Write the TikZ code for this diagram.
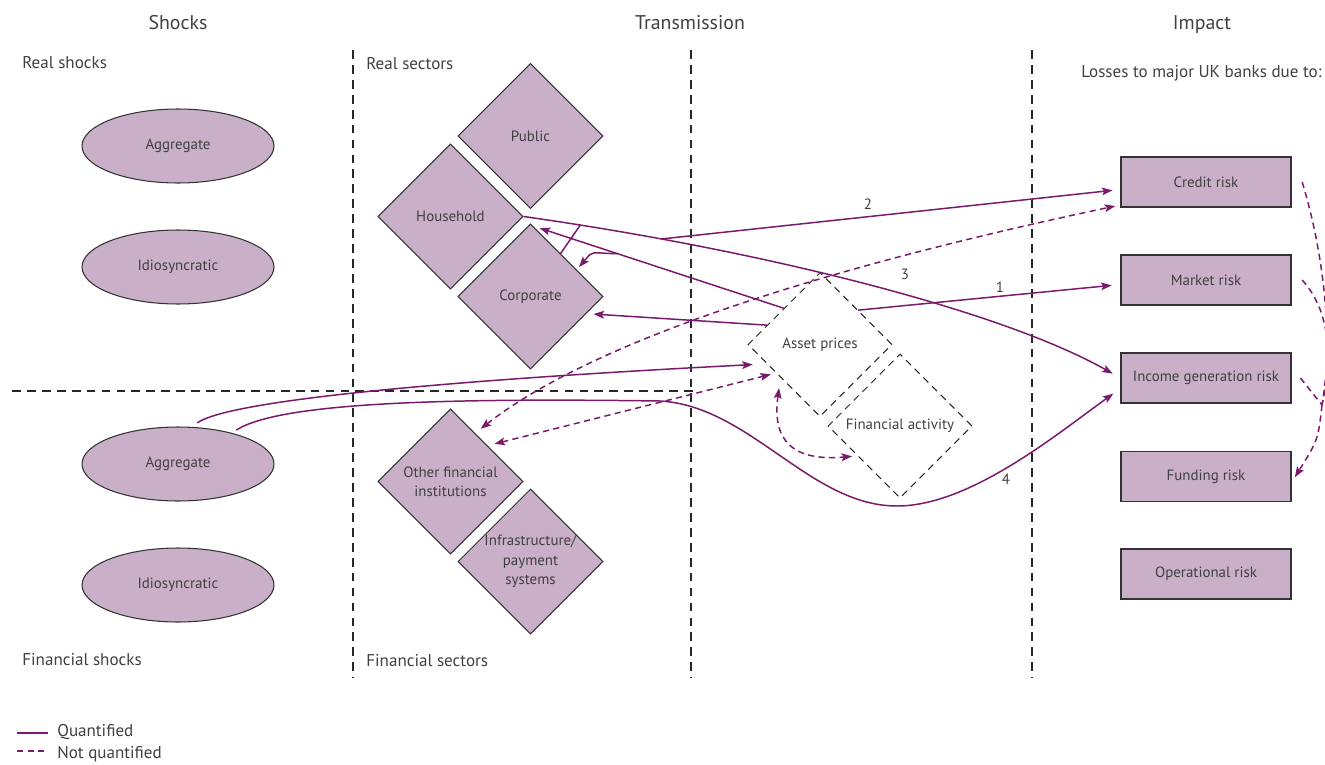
\documentclass[tikz,border=0pt]{standalone}
\usepackage{fontspec}
\setmainfont{PT Sans}
\usetikzlibrary{shapes.geometric,arrows.meta}
\definecolor{boepurple}{RGB}{122,26,108}
\definecolor{boefill}{RGB}{201,176,200}
\definecolor{boetext}{RGB}{64,64,64}

\begin{document}
\begin{tikzpicture}[x=0.02cm,y=0.02cm,>={Stealth[length=6pt,width=4.4pt,inset=1.2pt]}]
	\tikzstyle{every node} = [text=boetext,font=\fontsize{8.5}{11}\selectfont,align=center];
	\tikzstyle{shock} = [ellipse,draw=black!80,line width=0.6pt,fill=boefill,minimum width=3.84cm,minimum height=1.48cm];
	\tikzstyle{sector} = [diamond,draw=black!80,line width=0.6pt,fill=boefill,minimum size=2.9cm,inner sep=0pt];
	\tikzstyle{channel} = [diamond,draw=black!85,line width=0.6pt,dash pattern=on 4pt off 3pt,minimum size=2.88cm,inner sep=0pt];
	\tikzstyle{risk} = [rectangle,draw=black!80,line width=0.7pt,fill=boefill,minimum width=3.4cm,minimum height=1cm];
	\tikzstyle{head} = [font=\fontsize{11.3}{13}\selectfont];
	\tikzstyle{area} = [font=\fontsize{9.7}{11}\selectfont,anchor=west,inner sep=0pt];
	\tikzstyle{divider} = [black!85,line width=0.6pt,dash pattern=on 5pt off 3.5pt];
	\tikzstyle{qline} = [boepurple,line width=0.85pt];
	\tikzstyle{nqline} = [boepurple,line width=0.85pt,dash pattern=on 3.5pt off 2.5pt];

	\useasboundingbox (0,0) rectangle (1325,-764);
	\clip (0,0) rectangle (1325,-764);

	% headings
	\node[head] (tshock) at (178,-23) {Shocks};
	\node[head] (ttrans) at (690,-23) {Transmission};
	\node[head] (timpact) at (1202,-25) {Impact};
	\node[area] (lrs) at (22,-63) {Real shocks};
	\node[area] (lrsec) at (366,-64) {Real sectors};
	\node[area] (lloss) at (1081,-73) {Losses to major UK banks due to:};
	\node[area] (lfs) at (22,-660) {Financial shocks};
	\node[area] (lfsec) at (366,-661) {Financial sectors};

	\draw[divider] (353,-50) -- (353,-678);
	\draw[divider] (691,-50) -- (691,-678);
	\draw[divider] (1032,-50) -- (1032,-678);
	\draw[divider] (12,-391) -- (693,-391);

	% shocks
	\node[shock] (aggR) at (178,-146) {Aggregate};
	\node[shock] (idioR) at (178,-267) {Idiosyncratic};
	\node[shock] (aggF) at (178,-464) {Aggregate};
	\node[shock] (idioF) at (178,-585) {Idiosyncratic};

	% sectors
	\node[sector] (pub) at (530.5,-136) {Public};
	\node[sector] (hh) at (450.5,-216.5) {Household};
	\node[sector] (corp) at (530.5,-296.5) {Corporate};
	\node[sector] (ofi) at (450.5,-481.5) {Other financial\\institutions};
	\node[sector] (infra) at (530.5,-561.5) {Infrastructure/\\payment\\systems};

	\node[channel] (ap) at (820,-344.5) {Asset prices};
	\node[channel] (fa) at (900,-426) {Financial activity};

	% risks
	\node[risk] (cr) at (1206,-182) {Credit risk};
	\node[risk] (mk) at (1206,-280) {Market risk};
	\node[risk] (inc) at (1206,-378) {Income generation risk};
	\node[risk] (fd) at (1206,-476.5) {Funding risk};
	\node[risk] (op) at (1206,-574) {Operational risk};

	% quantified channels
	\draw[qline,->,shorten >=5pt] (hh.east) .. controls (760,-250) and (1000,-310) .. (inc.west) coordinate[pos=0.08] (j1) coordinate[pos=0.195] (j2);
	\draw[qline] (corp.55) -- (j1);
	\draw[qline,->,shorten >=4.5pt] (j2) -- (cr.185);
	\draw[qline,->,shorten >=12.5pt] (ap.north west) -- (hh.-4) coordinate[pos=0.628] (j3);
	\draw[qline,->,shorten >=2pt] (j3) to[out=180,in=50,looseness=1.6] (corp.30);
	\draw[qline,->,shorten >=4pt] (ap.160) -- (corp.-17);
	\draw[qline,->,shorten >=5pt] (ap.42) -- (mk.183);
	\draw[qline,->,shorten <=4pt,shorten >=8pt] (aggF.70) .. controls (230,-400) and (450,-380) .. (ap.-160);
	\draw[qline,->,shorten <=3pt,shorten >=5pt] (aggF.30) .. controls (280,-402) and (450,-398) .. (660,-401)
		.. controls (750,-406) and (810,-506) .. (897,-506)
		.. controls (970,-506) and (1057,-434) .. (inc.187);
	\node (n1) at (1000,-287) {1};
	\node (n2) at (868,-204) {2};
	\node (n3) at (905,-274) {3};
	\node (n4) at (1006,-479) {4};

	% not quantified
	\draw[nqline,<->,shorten <=4pt,shorten >=3pt] (ofi.63) to[out=38,in=192,looseness=0.7] (cr.195);
	\draw[nqline,<->,shorten <=4pt,shorten >=3pt] (ofi.44) -- (ap.213);
	\draw[nqline,<->,shorten <=6pt,shorten >=3pt] (ap.220) to[out=262,in=185,looseness=1.5] (fa.215);
	\coordinate (m) at (1322,-405);
	\draw[nqline] ([xshift=6pt]cr.east) .. controls (1320,-240) and (1335,-330) .. (m);
	\draw[nqline] ([xshift=6pt]mk.east) .. controls (1325,-305) and (1335,-345) .. (m);
	\draw[nqline] ([xshift=5pt]inc.east) -- (m);
	\draw[nqline,->,shorten >=3.5pt] (m) .. controls (1318,-440) .. (fd.-4);

	% legend
	\draw[qline] (17,-733) -- (48,-733);
	\node[area] (lq) at (57,-732) {Quantified};
	\draw[nqline] (17,-751) -- (48,-751);
	\node[area] (lnq) at (57,-754) {Not quantified};
\end{tikzpicture}
\end{document}
